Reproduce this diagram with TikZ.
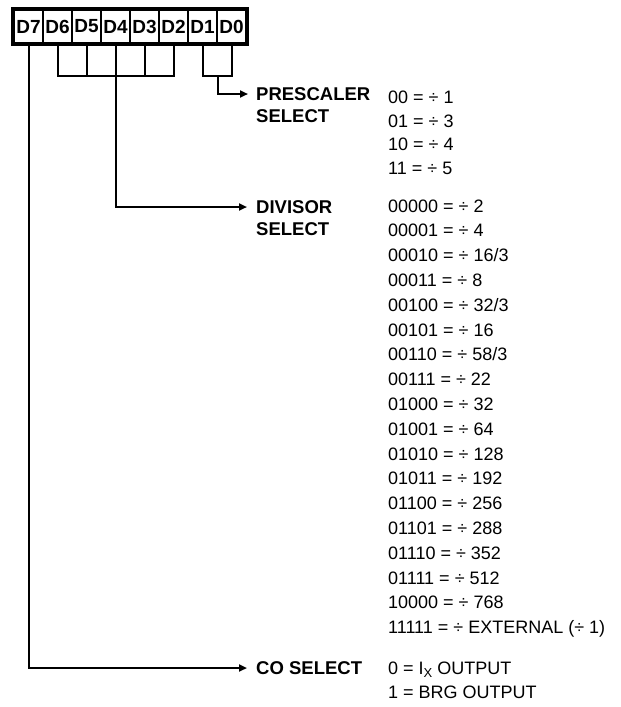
\documentclass[tikz,border=0pt]{standalone}
\usepackage{fontspec}
\setmainfont{Liberation Sans}
\usetikzlibrary{arrows.meta}
\begin{document}
\begin{tikzpicture}[x=1pt,y=-1pt,
  cellbox/.style={draw, line width=2pt, minimum width=29pt, minimum height=33pt, inner sep=0pt, font=\fontsize{19}{19}\bfseries\selectfont},
  wire/.style={line width=2pt},
  arr/.style={wire, -{Triangle[length=8pt,width=7pt]}},
  lbl/.style={anchor=base west, inner sep=0pt, font=\fontsize{18.5}{18.5}\bfseries\selectfont},
  val/.style={anchor=base west, inner sep=0pt, font=\fontsize{18}{18}\selectfont}]
\useasboundingbox (0,0) rectangle (621,707);
% register cells
\foreach \i/\n in {0/7,1/6,2/5,3/4,4/3,5/2,6/1,7/0}
  \node[cellbox] (c\n) at (28.5+29*\i, 26.5) {D\n};
\draw[line width=3.5pt] (c7.north west) rectangle (c0.south east);
% bracket level
\coordinate (bar) at (0,76);
\draw[wire] (c6.south) -- (c6.south |- bar) -- (c2.south |- bar) -- (c2.south);
\foreach \n in {5,4,3} \draw[wire] (c\n.south) -- (c\n.south |- bar);
\draw[wire] (c1.south) -- (c1.south |- bar) -- (c0.south |- bar) -- (c0.south);
% arrow targets
\coordinate (preT) at (248,94);
\coordinate (divT) at (247,207);
\coordinate (coT) at (247,668);
\coordinate (preS) at (217.5,76);
\draw[arr] (preS) |- (preT);
\draw[arr] (c4.south |- bar) |- (divT);
\draw[arr] (c7.south) |- (coT);
% labels
\node[lbl] (preA) at (256,100.5) {PRESCALER};
\node[lbl] (preB) at (256,122.5) {SELECT};
\node[lbl] (divA) at (256,213.5) {DIVISOR};
\node[lbl] (divB) at (256,235.5) {SELECT};
\node[lbl] (coA) at (256,674.5) {CO SELECT};
% prescaler values
\foreach \t [count=\k from 0] in {00 = ÷ 1, 01 = ÷ 3, 10 = ÷ 4, 11 = ÷ 5}
  \node[val] (p\k) at (388, 103.5+23.5*\k) {\t};
% divisor values
\foreach \t [count=\k from 0] in {00000 = ÷ 2, 00001 = ÷ 4, 00010 = ÷ 16/3, 00011 = ÷ 8,
  00100 = ÷ 32/3, 00101 = ÷ 16, 00110 = ÷ 58/3, 00111 = ÷ 22, 01000 = ÷ 32,
  01001 = ÷ 64, 01010 = ÷ 128, 01011 = ÷ 192, 01100 = ÷ 256, 01101 = ÷ 288,
  01110 = ÷ 352, 01111 = ÷ 512, 10000 = ÷ 768, 11111 = ÷ EXTERNAL (÷ 1)}
  \node[val] (v\k) at (388, 212+24.8*\k) {\t};
% CO values
\node[val] (co0) at (388, 674.5) {0 = I\raisebox{-0.35ex}{\fontsize{13}{13}\selectfont X} OUTPUT};
\node[val] (co1) at (388, 698) {1 = BRG OUTPUT};
\end{tikzpicture}
\end{document}
